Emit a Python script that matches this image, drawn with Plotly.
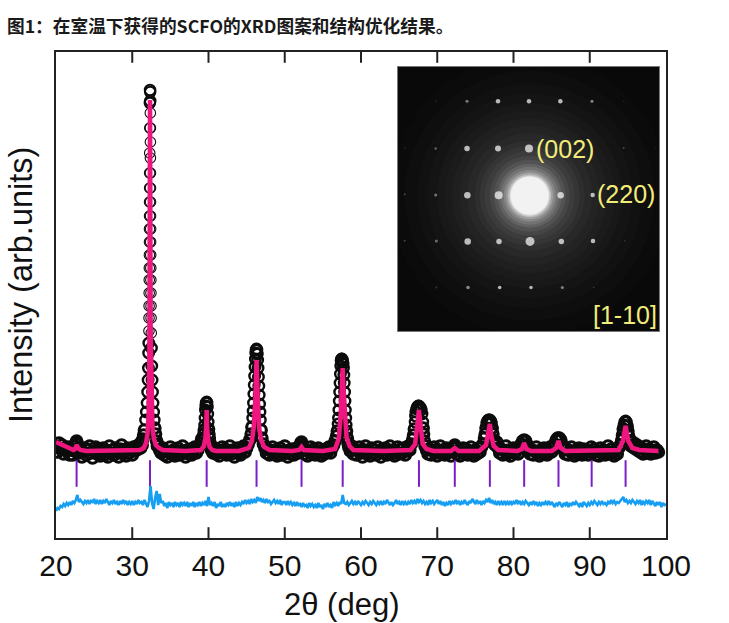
import plotly.graph_objects as go

obs_x = [
    20.0, 20.2, 20.4, 20.6, 20.8, 21.0, 21.2, 21.4, 21.6, 21.8,
    22.0, 22.2, 22.4, 22.5, 22.6, 22.7, 22.8, 22.9, 23.0, 23.2,
    23.4, 23.6, 23.8, 24.0, 24.2, 24.4, 24.6, 24.8, 25.0, 25.2,
    25.4, 25.6, 25.8, 26.0, 26.2, 26.4, 26.6, 26.8, 27.0, 27.2,
    27.4, 27.6, 27.8, 28.0, 28.2, 28.4, 28.6, 28.8, 29.0, 29.2,
    29.4, 29.6, 29.8, 30.0, 30.2, 30.4, 30.6, 30.8, 31.0, 31.1,
    31.2, 31.3, 31.4, 31.5, 31.6, 31.75, 31.85, 31.95, 32.02, 32.08,
    32.12, 32.15, 32.17, 32.19, 32.2, 32.21, 32.22, 32.23, 32.24, 32.25,
    32.26, 32.26, 32.27, 32.27, 32.28, 32.28, 32.29, 32.3, 32.31, 32.33,
    32.35, 32.36, 32.37, 32.38, 32.38, 32.38, 32.39, 32.39, 32.4, 32.4,
    32.41, 32.41, 32.42, 32.43, 32.44, 32.45, 32.46, 32.47, 32.49, 32.52,
    32.56, 32.6, 32.66, 32.72, 32.8, 32.88, 32.96, 33.05, 33.2, 33.3,
    33.4, 33.6, 33.8, 34.0, 34.2, 34.4, 34.6, 34.8, 35.0, 35.2,
    35.4, 35.6, 35.8, 36.0, 36.2, 36.4, 36.6, 36.8, 37.0, 37.2,
    37.4, 37.6, 37.8, 38.0, 38.2, 38.4, 38.6, 38.8, 39.0, 39.1,
    39.2, 39.3, 39.4, 39.45, 39.5, 39.55, 39.6, 39.65, 39.7, 39.76,
    39.8, 39.85, 39.9, 39.95, 40.0, 40.05, 40.1, 40.2, 40.3, 40.4,
    40.6, 40.8, 41.0, 41.2, 41.4, 41.6, 41.8, 42.0, 42.2, 42.4,
    42.6, 42.8, 43.0, 43.2, 43.4, 43.6, 43.8, 44.0, 44.2, 44.4,
    44.6, 44.8, 45.0, 45.2, 45.4, 45.6, 45.7, 45.8, 45.85, 45.9,
    45.95, 46.0, 46.05, 46.1, 46.15, 46.2, 46.25, 46.3, 46.35, 46.4,
    46.45, 46.5, 46.55, 46.6, 46.65, 46.7, 46.75, 46.8, 46.9, 47.0,
    47.2, 47.4, 47.6, 47.8, 48.0, 48.2, 48.4, 48.6, 48.8, 49.0,
    49.2, 49.4, 49.6, 49.8, 50.0, 50.2, 50.4, 50.6, 50.8, 51.0,
    51.2, 51.4, 51.6, 51.8, 52.0, 52.1, 52.2, 52.3, 52.4, 52.6,
    52.8, 53.0, 53.2, 53.4, 53.6, 53.8, 54.0, 54.2, 54.4, 54.6,
    54.8, 55.0, 55.2, 55.4, 55.6, 55.8, 56.0, 56.2, 56.4, 56.6,
    56.8, 56.9, 57.0, 57.05, 57.1, 57.15, 57.2, 57.25, 57.3, 57.35,
    57.4, 57.45, 57.5, 57.55, 57.6, 57.65, 57.7, 57.75, 57.8, 57.85,
    57.9, 57.95, 58.0, 58.05, 58.1, 58.2, 58.3, 58.4, 58.6, 58.8,
    59.0, 59.2, 59.4, 59.6, 59.8, 60.0, 60.2, 60.4, 60.6, 60.8,
    61.0, 61.2, 61.4, 61.6, 61.8, 62.0, 62.2, 62.4, 62.6, 62.8,
    63.0, 63.2, 63.4, 63.6, 63.8, 64.0, 64.2, 64.4, 64.6, 64.8,
    65.0, 65.2, 65.4, 65.6, 65.8, 66.0, 66.2, 66.4, 66.6, 66.8,
    66.9, 67.0, 67.1, 67.15, 67.2, 67.3, 67.4, 67.5, 67.6, 67.7,
    67.8, 67.9, 68.0, 68.1, 68.15, 68.2, 68.3, 68.4, 68.6, 68.8,
    69.0, 69.2, 69.4, 69.6, 69.8, 70.0, 70.2, 70.4, 70.6, 70.8,
    71.0, 71.2, 71.4, 71.6, 71.8, 72.0, 72.2, 72.3, 72.4, 72.6,
    72.8, 73.0, 73.2, 73.4, 73.6, 73.8, 74.0, 74.2, 74.4, 74.6,
    74.8, 75.0, 75.2, 75.4, 75.6, 75.8, 76.0, 76.2, 76.3, 76.4,
    76.5, 76.6, 76.7, 76.8, 76.9, 77.0, 77.1, 77.2, 77.3, 77.4,
    77.6, 77.8, 78.0, 78.2, 78.4, 78.6, 78.8, 79.0, 79.2, 79.4,
    79.6, 79.8, 80.0, 80.2, 80.4, 80.6, 80.8, 81.0, 81.2, 81.4,
    81.6, 81.8, 82.0, 82.2, 82.4, 82.6, 82.8, 83.0, 83.2, 83.4,
    83.6, 83.8, 84.0, 84.2, 84.4, 84.6, 84.8, 85.0, 85.2, 85.4,
    85.6, 85.8, 86.0, 86.2, 86.4, 86.6, 86.8, 87.0, 87.2, 87.4,
    87.6, 87.8, 88.0, 88.2, 88.4, 88.6, 88.8, 89.0, 89.2, 89.4,
    89.6, 89.8, 90.0, 90.2, 90.4, 90.6, 90.8, 91.0, 91.2, 91.4,
    91.6, 91.8, 92.0, 92.2, 92.4, 92.6, 92.8, 93.0, 93.2, 93.4,
    93.6, 93.8, 94.0, 94.2, 94.3, 94.4, 94.5, 94.6, 94.7, 94.8,
    94.9, 95.0, 95.1, 95.2, 95.4, 95.6, 95.8, 96.0, 96.2, 96.4,
    96.6, 96.8, 97.0, 97.2, 97.4, 97.6, 97.8, 98.0, 98.2, 98.4,
    98.6, 98.8, 99.0,
]
obs_y = [
    92, 86, 95, 89, 93, 84, 90, 87, 91, 83,
    88, 83, 87, 92, 95, 97, 94, 90, 85, 88,
    81, 86, 90, 83, 88, 92, 85, 80, 87, 91,
    84, 89, 82, 86, 90, 83, 87, 81, 92, 85,
    88, 83, 90, 86, 81, 89, 93, 84, 87, 82,
    90, 85, 88, 83, 91, 87, 92, 89, 94, 90,
    96, 93, 99, 103, 108, 118, 126, 135, 146, 158,
    170, 185, 195, 207, 220, 232, 245, 258, 270, 283,
    296, 309, 322, 336, 350, 365, 385, 410, 435, 448,
    446, 437, 425, 410, 396, 380, 365, 350, 336, 322,
    309, 296, 283, 270, 258, 245, 232, 220, 205, 190,
    172, 158, 146, 135, 126, 118, 110, 104, 97, 92,
    93, 88, 85, 90, 83, 87, 81, 86, 91, 84,
    88, 82, 86, 90, 83, 87, 92, 85, 81, 88,
    84, 89, 83, 87, 91, 85, 88, 92, 95, 99,
    98, 100, 104, 108, 113, 120, 128, 132, 135, 136,
    135, 131, 124, 116, 109, 104, 100, 95, 92, 88,
    85, 90, 84, 88, 82, 87, 91, 85, 89, 83,
    86, 92, 84, 88, 81, 87, 90, 85, 83, 89,
    92, 86, 90, 94, 98, 104, 111, 120, 127, 135,
    144, 153, 162, 171, 179, 185, 188, 189, 188, 184,
    178, 170, 161, 152, 143, 134, 126, 118, 108, 100,
    94, 90, 85, 89, 83, 87, 91, 84, 88, 82,
    86, 90, 83, 87, 92, 85, 81, 88, 84, 89,
    83, 87, 90, 85, 92, 95, 96, 93, 90, 84,
    88, 82, 86, 91, 84, 89, 83, 87, 90, 85,
    82, 88, 84, 89, 86, 91, 85, 90, 93, 97,
    102, 107, 114, 120, 128, 137, 146, 155, 164, 172,
    177, 179, 179, 178, 176, 174, 170, 163, 155, 146,
    137, 128, 120, 113, 107, 100, 95, 91, 87, 92,
    84, 89, 83, 87, 91, 85, 81, 88, 92, 84,
    87, 82, 90, 85, 88, 83, 91, 86, 81, 89,
    85, 90, 83, 87, 92, 84, 88, 82, 86, 91,
    84, 89, 85, 90, 83, 87, 92, 88, 94, 99,
    103, 109, 116, 122, 126, 129, 131, 132, 132, 131,
    130, 128, 124, 116, 110, 104, 97, 92, 88, 84,
    89, 83, 87, 91, 85, 82, 88, 92, 84, 87,
    83, 90, 85, 88, 82, 87, 91, 93, 90, 84,
    88, 82, 86, 90, 84, 89, 83, 87, 91, 85,
    82, 88, 84, 90, 86, 91, 94, 100, 104, 110,
    115, 117, 118, 118, 118, 117, 115, 110, 104, 98,
    93, 96, 90, 85, 89, 83, 87, 92, 84, 88,
    82, 86, 90, 85, 89, 84, 90, 94, 97, 98,
    97, 93, 88, 84, 88, 83, 87, 91, 85, 82,
    88, 84, 90, 85, 83, 87, 91, 86, 90, 94,
    98, 100, 100, 98, 93, 88, 84, 89, 83, 87,
    91, 85, 82, 88, 84, 90, 86, 83, 89, 85,
    88, 83, 87, 91, 85, 89, 83, 87, 82, 90,
    85, 88, 83, 87, 92, 84, 89, 85, 82, 88,
    84, 90, 93, 98, 103, 109, 113, 116, 117, 116,
    112, 107, 102, 97, 92, 96, 90, 94, 88, 92,
    86, 90, 84, 88, 92, 85, 89, 84, 87, 91,
    85, 88, 86,
]

# refined profile
calc_x = [
    20.0, 20.5, 21.0, 21.5, 22.0, 22.3, 22.5, 22.7, 22.9, 23.2,
    24.0, 27.0, 30.0, 31.0, 31.5, 31.8, 32.0, 32.15, 32.25, 32.33,
    32.41, 32.5, 32.65, 32.85, 33.1, 33.5, 34.0, 37.0, 39.0, 39.4,
    39.6, 39.7, 39.76, 39.82, 39.95, 40.15, 40.5, 41.0, 44.0, 45.3,
    45.7, 45.95, 46.15, 46.3, 46.45, 46.65, 46.9, 47.3, 48.0, 51.0,
    51.9, 52.2, 52.5, 55.0, 56.6, 57.1, 57.35, 57.5, 57.6, 57.7,
    57.85, 58.1, 58.5, 59.0, 63.0, 66.5, 67.1, 67.35, 67.6, 67.85,
    68.1, 68.6, 69.5, 71.8, 72.3, 72.8, 75.5, 76.4, 76.7, 76.9,
    77.1, 77.4, 78.0, 80.5, 81.1, 81.4, 81.7, 82.3, 85.0, 85.6,
    85.9, 86.2, 86.8, 90.0, 93.8, 94.35, 94.7, 95.05, 95.6, 96.5,
    99.0,
]
calc_y = [
    96, 94, 92, 90, 89, 88, 89, 93, 90, 88,
    87, 87, 87, 88, 90, 95, 104, 125, 190, 438,
    210, 135, 110, 99, 93, 90, 88, 87, 88, 92,
    100, 112, 128, 110, 98, 91, 88, 87, 87, 90,
    97, 112, 140, 178, 142, 110, 98, 91, 88, 87,
    88, 91, 88, 87, 89, 100, 125, 155, 170, 150,
    122, 101, 92, 88, 87, 88, 94, 110, 128, 110,
    94, 89, 87, 87, 90, 87, 87, 93, 104, 114,
    102, 92, 88, 87, 89, 95, 89, 87, 87, 90,
    97, 90, 87, 87, 88, 97, 112, 97, 90, 88,
    87,
]

# difference curve, one row per 2 degrees
diff_x = [
    20.0, 20.2, 20.4, 20.6, 20.8, 21.0, 21.2, 21.4, 21.6, 21.8,
    22.0, 22.2, 22.4, 22.6, 22.8, 23.0, 23.2, 23.4, 23.6, 23.8,
    24.0, 24.2, 24.4, 24.6, 24.8, 25.0, 25.2, 25.4, 25.6, 25.8,
    26.0, 26.2, 26.4, 26.6, 26.8, 27.0, 27.2, 27.4, 27.6, 27.8,
    28.0, 28.2, 28.4, 28.6, 28.8, 29.0, 29.2, 29.4, 29.6, 29.8,
    30.0, 30.2, 30.4, 30.6, 30.8, 31.0, 31.2, 31.4, 31.6, 31.8,
    32.0, 32.2, 32.4, 32.6, 32.8, 33.0, 33.2, 33.4, 33.6, 33.8,
    34.0, 34.2, 34.4, 34.6, 34.8, 35.0, 35.2, 35.4, 35.6, 35.8,
    36.0, 36.2, 36.4, 36.6, 36.8, 37.0, 37.2, 37.4, 37.6, 37.8,
    38.0, 38.2, 38.4, 38.6, 38.8, 39.0, 39.2, 39.4, 39.6, 39.8,
    40.0, 40.2, 40.4, 40.6, 40.8, 41.0, 41.2, 41.4, 41.6, 41.8,
    42.0, 42.2, 42.4, 42.6, 42.8, 43.0, 43.2, 43.4, 43.6, 43.8,
    44.0, 44.2, 44.4, 44.6, 44.8, 45.0, 45.2, 45.4, 45.6, 45.8,
    46.0, 46.2, 46.4, 46.6, 46.8, 47.0, 47.2, 47.4, 47.6, 47.8,
    48.0, 48.2, 48.4, 48.6, 48.8, 49.0, 49.2, 49.4, 49.6, 49.8,
    50.0, 50.2, 50.4, 50.6, 50.8, 51.0, 51.2, 51.4, 51.6, 51.8,
    52.0, 52.2, 52.4, 52.6, 52.8, 53.0, 53.2, 53.4, 53.6, 53.8,
    54.0, 54.2, 54.4, 54.6, 54.8, 55.0, 55.2, 55.4, 55.6, 55.8,
    56.0, 56.2, 56.4, 56.6, 56.8, 57.0, 57.2, 57.4, 57.6, 57.8,
    58.0, 58.2, 58.4, 58.6, 58.8, 59.0, 59.2, 59.4, 59.6, 59.8,
    60.0, 60.2, 60.4, 60.6, 60.8, 61.0, 61.2, 61.4, 61.6, 61.8,
    62.0, 62.2, 62.4, 62.6, 62.8, 63.0, 63.2, 63.4, 63.6, 63.8,
    64.0, 64.2, 64.4, 64.6, 64.8, 65.0, 65.2, 65.4, 65.6, 65.8,
    66.0, 66.2, 66.4, 66.6, 66.8, 67.0, 67.2, 67.4, 67.6, 67.8,
    68.0, 68.2, 68.4, 68.6, 68.8, 69.0, 69.2, 69.4, 69.6, 69.8,
    70.0, 70.2, 70.4, 70.6, 70.8, 71.0, 71.2, 71.4, 71.6, 71.8,
    72.0, 72.2, 72.4, 72.6, 72.8, 73.0, 73.2, 73.4, 73.6, 73.8,
    74.0, 74.2, 74.4, 74.6, 74.8, 75.0, 75.2, 75.4, 75.6, 75.8,
    76.0, 76.2, 76.4, 76.6, 76.8, 77.0, 77.2, 77.4, 77.6, 77.8,
    78.0, 78.2, 78.4, 78.6, 78.8, 79.0, 79.2, 79.4, 79.6, 79.8,
    80.0, 80.2, 80.4, 80.6, 80.8, 81.0, 81.2, 81.4, 81.6, 81.8,
    82.0, 82.2, 82.4, 82.6, 82.8, 83.0, 83.2, 83.4, 83.6, 83.8,
    84.0, 84.2, 84.4, 84.6, 84.8, 85.0, 85.2, 85.4, 85.6, 85.8,
    86.0, 86.2, 86.4, 86.6, 86.8, 87.0, 87.2, 87.4, 87.6, 87.8,
    88.0, 88.2, 88.4, 88.6, 88.8, 89.0, 89.2, 89.4, 89.6, 89.8,
    90.0, 90.2, 90.4, 90.6, 90.8, 91.0, 91.2, 91.4, 91.6, 91.8,
    92.0, 92.2, 92.4, 92.6, 92.8, 93.0, 93.2, 93.4, 93.6, 93.8,
    94.0, 94.2, 94.4, 94.6, 94.8, 95.0, 95.2, 95.4, 95.6, 95.8,
    96.0, 96.2, 96.4, 96.6, 96.8, 97.0, 97.2, 97.4, 97.6, 97.8,
    98.0, 98.2, 98.4, 98.6, 98.8, 99.0, 99.2, 99.4, 99.6, 99.8,
    100.0,
]
diff_y = [
    27, 30, 29, 32, 31, 34, 32, 35, 33, 36,
    33, 37, 35, 38, 43, 36, 38, 36, 34, 37,
    35, 38, 34, 37, 36, 39, 34, 37, 35, 38,
    34, 37, 35, 39, 36, 33, 37, 35, 38, 34,
    36, 33, 37, 34, 38, 35, 37, 33, 36, 34,
    37, 33, 36, 34, 38, 35, 36, 33, 38, 34,
    31, 37, 52, 35, 29, 40, 47, 33, 44, 35,
    37, 32, 35, 30, 36, 33, 35, 31, 36, 33,
    35, 31, 36, 33, 35, 32, 36, 31, 34, 33,
    36, 31, 35, 33, 36, 32, 35, 33, 37, 32,
    41, 33, 35, 32, 36, 30, 34, 32, 36, 31,
    34, 31, 35, 33, 36, 32, 35, 31, 36, 32,
    35, 33, 36, 34, 38, 35, 37, 34, 39, 36,
    38, 35, 41, 37, 40, 36, 38, 35, 39, 36,
    37, 34, 36, 38, 35, 37, 34, 38, 33, 36,
    36, 33, 37, 34, 36, 33, 35, 32, 36, 33,
    34, 31, 35, 32, 33, 30, 35, 32, 34, 31,
    33, 30, 35, 31, 33, 29, 34, 32, 35, 31,
    33, 30, 36, 33, 35, 32, 36, 34, 43, 35,
    34, 36, 33, 35, 37, 34, 36, 33, 37, 35,
    33, 36, 34, 37, 35, 33, 36, 34, 37, 35,
    33, 36, 34, 37, 33, 36, 34, 38, 35, 33,
    36, 33, 35, 38, 34, 36, 33, 37, 34, 36,
    33, 36, 34, 38, 35, 37, 34, 39, 36, 38,
    35, 37, 34, 36, 33, 38, 35, 37, 34, 36,
    38, 34, 37, 33, 36, 32, 35, 33, 37, 34,
    36, 34, 38, 35, 37, 33, 36, 34, 38, 35,
    33, 37, 35, 39, 36, 34, 38, 35, 36, 33,
    37, 35, 38, 36, 40, 35, 38, 34, 36, 33,
    37, 34, 36, 33, 37, 34, 36, 33, 37, 34,
    36, 34, 38, 35, 37, 33, 36, 34, 37, 35,
    33, 36, 33, 37, 34, 36, 32, 35, 33, 36,
    33, 36, 34, 37, 33, 36, 34, 31, 35, 33,
    36, 33, 31, 35, 33, 36, 31, 34, 33, 36,
    33, 36, 34, 32, 35, 31, 36, 34, 32, 35,
    33, 36, 34, 37, 35, 33, 36, 34, 37, 34,
    35, 33, 36, 34, 38, 35, 37, 34, 36, 35,
    37, 39, 41, 36, 38, 35, 37, 35, 38, 36,
    34, 37, 35, 38, 33, 36, 34, 37, 35, 38,
    33, 37, 35, 32, 36, 33, 36, 31, 35, 33,
    34,
]

# Bragg positions
bragg_x = [22.7, 32.33, 39.76, 46.3, 52.2, 57.6, 67.6, 72.3, 76.9, 81.4, 85.9, 90.25, 94.7]
bragg_y = [64.5] * len(bragg_x)

x_ticks = [20, 30, 40, 50, 60, 70, 80, 90, 100]
inner_ticks = [30, 40, 50, 60, 70, 80, 90]
Y_MAX = 486

# diffraction inset: glow around the direct beam, then the spots
halo_size = [280, 250, 225, 205, 185, 170, 155, 140, 125, 110, 100, 90, 80, 72, 64, 58, 52, 47, 43, 40, 38]
halo_grey = [11, 14, 17, 20, 24, 27, 31, 35, 40, 46, 53, 60, 70, 82, 98, 115, 135, 160, 190, 220, 242]

spot_x = [138, 232, 325, 418, 512, 607, 702,
          45, 138, 232, 325, 418, 702, 797,
          45, 138, 233, 327, 513, 609,
          45, 140, 234, 328, 421, 515, 610, 705,
          140, 235, 330, 424, 518, 612]
spot_y = [122, 122, 122, 122, 122, 122, 122,
          262, 264, 264, 264, 264, 262, 262,
          401, 403, 404, 404, 404, 403,
          540, 541, 542, 542, 542, 542, 541, 540,
          680, 680, 680, 680, 680, 680]
spot_size = [1.5, 3, 4.5, 4.5, 4.5, 3, 1.5,
             1.5, 2.5, 5.5, 6, 8, 2, 1.5,
             2, 3, 6.5, 8, 6.5, 4.5,
             2, 3, 6.5, 5.5, 9, 5.5, 4.5, 1.5,
             2, 3.5, 3.5, 3.5, 3, 1.5]
spot_grey = [60, 170, 255, 255, 255, 190, 50,
             70, 130, 255, 255, 255, 90, 40,
             100, 160, 255, 255, 255, 255,
             90, 150, 255, 255, 255, 255, 255, 80,
             70, 190, 255, 250, 180, 80]


def grey(v):
    return "rgb(%d,%d,%d)" % (v, v, v)


def ring_width(v):
    # the circles merge into a solid band along the background, the tall stem stays open
    if v > 430:
        return 2
    if v > 200:
        return 1.1
    if v > 112:
        return 2.4
    return 3.2


FONT = "Liberation Sans, Arial, sans-serif"

fig = go.Figure()

fig.add_trace(go.Scatter(x=obs_x, y=obs_y, mode="markers",
                         marker=dict(symbol="circle-open", size=10.5, color="#0c0c0c",
                                     line=dict(width=[ring_width(v) for v in obs_y], color="#0c0c0c"))))
fig.add_trace(go.Scatter(x=calc_x, y=calc_y, mode="lines",
                         line=dict(color="#f0167f", width=4.5)))
fig.add_trace(go.Scatter(x=bragg_x, y=bragg_y, mode="markers",
                         marker=dict(symbol="line-ns", size=19, color="#7a1fc8",
                                     line=dict(width=2, color="#7a1fc8"))))
fig.add_trace(go.Scatter(x=diff_x, y=diff_y, mode="lines",
                         line=dict(color="#169ff2", width=2.6)))

# inward ticks on the bottom and top edges
fig.add_trace(go.Scatter(x=inner_ticks, y=[4.5] * len(inner_ticks), mode="markers",
                         marker=dict(symbol="line-ns", size=9, color="#222222",
                                     line=dict(width=2, color="#222222"))))
fig.add_trace(go.Scatter(x=inner_ticks, y=[Y_MAX - 4.5] * len(inner_ticks), mode="markers",
                         marker=dict(symbol="line-ns", size=9, color="#222222",
                                     line=dict(width=2, color="#222222"))))

# inset background + glow
fig.add_trace(go.Scatter(x=[420], y=[405], xaxis="x2", yaxis="y2", mode="markers",
                         marker=dict(symbol="square", size=700, color="#090909", line=dict(width=0))))
fig.add_trace(go.Scatter(x=[420] * len(halo_size), y=[405] * len(halo_size),
                         xaxis="x2", yaxis="y2", mode="markers",
                         marker=dict(size=halo_size, opacity=1,
                                     color=[grey(v) for v in halo_grey], line=dict(width=0))))
fig.add_trace(go.Scatter(x=spot_x, y=spot_y, xaxis="x2", yaxis="y2", mode="markers",
                         marker=dict(size=spot_size, color=[grey(v) for v in spot_grey],
                                     line=dict(width=0))))

fig.update_layout(
    width=729,
    height=623,
    showlegend=False,
    paper_bgcolor="white",
    plot_bgcolor="white",
    margin=dict(l=56, r=63, t=52, b=85),
    font=dict(family=FONT, color="#111111"),
    title=dict(text="图1：在室温下获得的SCFO的XRD图案和结构优化结果。",
               xref="container", yref="container", x=7 / 729, y=1 - 27 / 623,
               xanchor="left", yanchor="middle",
               font=dict(family="Noto Sans CJK SC", size=17.7, color="#1a1a1a", weight=700)),
    xaxis=dict(range=[20, 100], tickvals=x_ticks, ticks="", showgrid=False, zeroline=False,
               mirror=True, showline=True, linewidth=2, linecolor="#222222",
               tickfont=dict(size=30, color="#111111")),
    yaxis=dict(range=[0, Y_MAX], showticklabels=False, ticks="", showgrid=False, zeroline=False,
               mirror=True, showline=True, linewidth=2, linecolor="#222222"),
    xaxis2=dict(domain=[0.5607, 0.9885], range=[25, 808], anchor="y2",
                showticklabels=False, ticks="", showgrid=False, zeroline=False,
                mirror=True, showline=True, linewidth=1, linecolor="#777777"),
    yaxis2=dict(domain=[0.426, 0.969], range=[810, 20], anchor="x2",
                showticklabels=False, ticks="", showgrid=False, zeroline=False,
                mirror=True, showline=True, linewidth=1, linecolor="#777777"),
    annotations=[
        dict(text="Intensity (arb.units)", textangle=-90, xref="paper", yref="paper",
             x=(21 - 56) / 610, y=(538 - 285) / 486, xanchor="center", yanchor="middle",
             showarrow=False, font=dict(size=32.5, color="#111111")),
        dict(text="2θ (deg)", xref="paper", yref="paper", x=(341 - 56) / 610, y=(538 - 604) / 486,
             xanchor="center", yanchor="middle", showarrow=False,
             font=dict(size=31, color="#111111")),
        dict(text="(002)", xref="x2", yref="y2", x=525, y=265, xanchor="center", yanchor="middle",
             showarrow=False, font=dict(size=25, color="#f2ec78")),
        dict(text="(220)", xref="x2", yref="y2", x=708, y=400, xanchor="center", yanchor="middle",
             showarrow=False, font=dict(size=25, color="#f2ec78")),
        dict(text="[1-10]", xref="x2", yref="y2", x=705, y=762, xanchor="center", yanchor="middle",
             showarrow=False, font=dict(size=25, color="#f2ec78")),
    ],
)

# the page's default body margin would shift the figure by 8px
fig.write_html("out.html", post_script="document.body.style.margin='0';",
               config=dict(displayModeBar=False))
